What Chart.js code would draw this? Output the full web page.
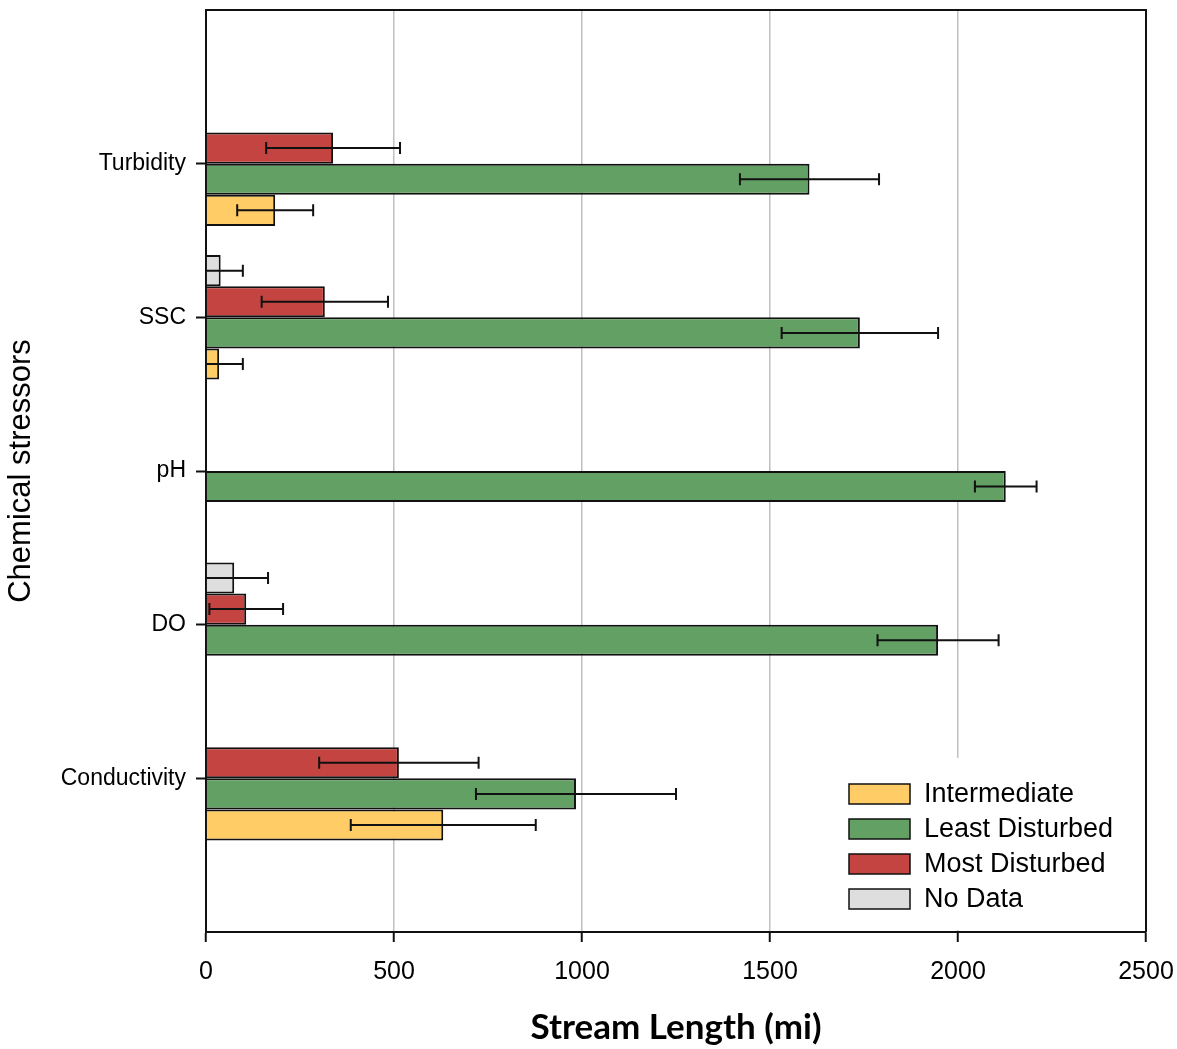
<!DOCTYPE html>
<html>
<head>
<meta charset="utf-8">
<title>Chemical stressors – stream length by condition class</title>
<script src="https://cdn.jsdelivr.net/npm/chart.js@4/dist/chart.umd.min.js"></script>
<style>
  html, body { margin: 0; padding: 0; background: #ffffff; }
  #wrap { width: 1177px; height: 1049px; }
</style>
</head>
<body>
<div id="wrap"><canvas id="chart" width="1177" height="1049"></canvas></div>
<script>
// Stressor categories, top to bottom
const categories = ['Turbidity', 'SSC', 'pH', 'DO', 'Conductivity'];

// Stream length (mi) per condition class, with ± error
const noData          = [null,   39, null,   75, null];
const noDataErr       = [null,   59, null,   90, null];
const mostDisturbed   = [ 338,  316, null,  107,  513];
const mostDisturbedErr= [ 178,  168, null,   98,  212];
const leastDisturbed  = [1605, 1739, 2127, 1947,  984];
const leastDisturbedErr=[ 185,  208,   82,  161,  266];
const intermediate    = [ 184,   35, null, null,  631];
const intermediateErr = [ 101,   63, null, null,  246];

// X-axis range and tick step
const xMin = 0, xMax = 2500, xStep = 500;

// Blank slots above and below the categories give a full band of space at each end
const pad = arr => [null, ...arr, null];
const yLabels = ['', ...categories, ''];

const datasets = [
  { label: 'No Data',         data: pad(noData),         err: pad(noDataErr),         backgroundColor: '#DEDEDE' },
  { label: 'Most Disturbed',  data: pad(mostDisturbed),  err: pad(mostDisturbedErr),  backgroundColor: '#C44441' },
  { label: 'Least Disturbed', data: pad(leastDisturbed), err: pad(leastDisturbedErr), backgroundColor: '#62A063' },
  { label: 'Intermediate',    data: pad(intermediate),   err: pad(intermediateErr),   backgroundColor: '#FFCC66' }
].map(d => Object.assign(d, {
  borderColor: '#111111',
  borderWidth: 2,
  categoryPercentage: 0.81,
  barPercentage: 1.0
}));

// Error bars: horizontal whisker centred on each bar, clipped to the plot area
const errorBars = {
  id: 'errorBars',
  afterDatasetsDraw(chart) {
    const { ctx, chartArea, scales: { x } } = chart;
    ctx.save();
    ctx.beginPath();
    ctx.rect(chartArea.left, chartArea.top, chartArea.right - chartArea.left, chartArea.bottom - chartArea.top);
    ctx.clip();
    ctx.strokeStyle = '#111111';
    ctx.lineWidth = 2;
    chart.data.datasets.forEach((ds, di) => {
      const meta = chart.getDatasetMeta(di);
      meta.data.forEach((bar, i) => {
        const v = ds.data[i], e = ds.err[i];
        if (v == null || e == null) return;
        const y = bar.y;
        const x1 = x.getPixelForValue(v - e);
        const x2 = x.getPixelForValue(v + e);
        const cap = 6;
        ctx.beginPath();
        ctx.moveTo(x1, y); ctx.lineTo(x2, y);
        ctx.moveTo(x1, y - cap); ctx.lineTo(x1, y + cap);
        ctx.moveTo(x2, y - cap); ctx.lineTo(x2, y + cap);
        ctx.stroke();
      });
    });
    ctx.restore();
  }
};

// Top and right frame lines around the plot
const frame = {
  id: 'frame',
  beforeDatasetsDraw(chart) {
    const { ctx, chartArea: a } = chart;
    ctx.save();
    ctx.strokeStyle = '#111111';
    ctx.lineWidth = 2;
    ctx.beginPath();
    ctx.moveTo(a.left, a.top); ctx.lineTo(a.right, a.top); ctx.lineTo(a.right, a.bottom);
    ctx.stroke();
    ctx.restore();
  }
};

// Legend box inside the lower-right corner of the plot
const insideLegend = {
  id: 'insideLegend',
  afterDatasetsDraw(chart) {
    const { ctx, chartArea: a } = chart;
    const bgLeft = a.right - 310, bgTop = a.bottom - 174;
    ctx.save();
    ctx.fillStyle = '#ffffff';
    ctx.fillRect(bgLeft, bgTop, a.right - 2 - bgLeft, a.bottom - 2 - bgTop);
    const items = chart.data.datasets.slice().reverse();
    const boxX = a.right - 297, boxW = 61, boxH = 20, rowH = 35;
    let top = bgTop + 26;
    ctx.font = '27px "Liberation Sans", Arial, sans-serif';
    ctx.textBaseline = 'middle';
    ctx.textAlign = 'left';
    items.forEach(ds => {
      ctx.fillStyle = ds.backgroundColor;
      ctx.fillRect(boxX, top, boxW, boxH);
      ctx.strokeStyle = '#111111';
      ctx.lineWidth = 1.5;
      ctx.strokeRect(boxX, top, boxW, boxH);
      ctx.fillStyle = '#000000';
      ctx.fillText(ds.label, boxX + 75, top + boxH / 2 + 1);
      top += rowH;
    });
    ctx.restore();
  }
};

new Chart(document.getElementById('chart'), {
  type: 'bar',
  data: { labels: yLabels, datasets },
  plugins: [frame, errorBars, insideLegend],
  options: {
    indexAxis: 'y',
    responsive: false,
    animation: false,
    layout: { padding: { top: 10, right: 31, left: 0, bottom: 0 } },
    plugins: {
      legend: { display: false },
      tooltip: { enabled: false }
    },
    scales: {
      x: {
        type: 'linear',
        min: xMin,
        max: xMax,
        ticks: {
          stepSize: xStep,
          color: '#000000',
          padding: 15,
          format: { useGrouping: false },
          font: { family: '"Liberation Sans", Arial, sans-serif', size: 25 }
        },
        grid: {
          color: ctx => (ctx.tick && (ctx.tick.value === xMin || ctx.tick.value === xMax)) ? 'rgba(0,0,0,0)' : '#C0C0C0',
          lineWidth: 1.5,
          tickColor: '#111111',
          tickWidth: 2,
          tickLength: 10
        },
        border: { color: '#111111', width: 2 },
        title: {
          display: true,
          text: 'Stream Length (mi)',
          color: '#000000',
          padding: { top: 0, bottom: 0 },
          font: { family: 'Lato, "Open Sans", sans-serif', size: 35, weight: 'bold' }
        },
        afterFit(scale) {
          scale.height = 117;
          scale.paddingLeft = 0;
          scale.paddingRight = 0;
        }
      },
      y: {
        type: 'category',
        offset: false,
        ticks: {
          color: '#000000',
          padding: 10,
          autoSkip: false,
          font: { family: '"Liberation Sans", Arial, sans-serif', size: 23 }
        },
        grid: {
          offset: false,
          drawOnChartArea: false,
          tickLength: 10,
          tickWidth: 2,
          tickColor: ctx => (ctx.tick && ctx.tick.label) ? '#111111' : 'rgba(0,0,0,0)'
        },
        border: { color: '#111111', width: 2 },
        title: {
          display: true,
          text: 'Chemical stressors',
          color: '#000000',
          padding: { top: 3, bottom: 0 },
          font: { family: '"Liberation Sans", Arial, sans-serif', size: 31 }
        },
        afterFit(scale) {
          scale.width = 206;
          scale.paddingTop = 0;
          scale.paddingBottom = 0;
        }
      }
    }
  }
});
</script>
</body>
</html>
